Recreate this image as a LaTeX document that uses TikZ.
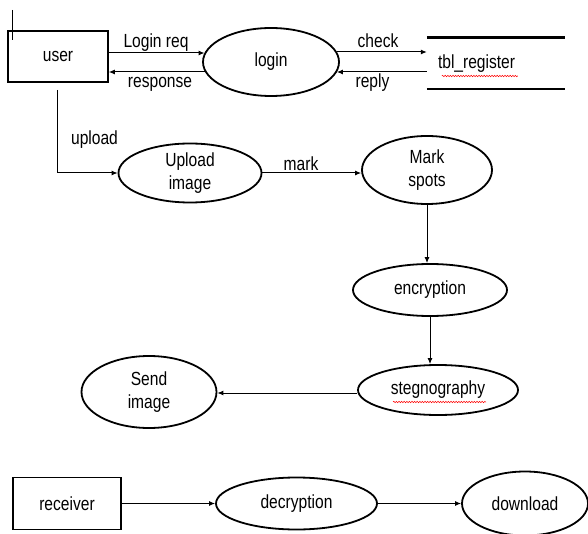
\documentclass[tikz,border=0pt]{standalone}
\usepackage{fontspec}
\setmainfont{Liberation Sans}[FakeStretch=0.82]
\usetikzlibrary{shapes.geometric,arrows.meta,calc,decorations.pathmorphing}

\begin{document}
\begin{tikzpicture}[x=1pt,y=-1pt,
  every node/.style={font=\fontsize{19}{23}\selectfont},
  proc/.style={ellipse, draw, line width=1.8pt, inner sep=-3pt, align=center},
  entity/.style={rectangle, draw, line width=1.6pt, inner sep=0pt},
  store/.style={rectangle, inner ysep=0pt, inner xsep=11pt, text width=116pt, align=left,
    minimum width=138pt, minimum height=51pt},
  storeline/.style={line width=2.6pt},
  flow/.style={line width=1pt, -{Latex[length=6pt,width=5pt]}},
  plain/.style={line width=1pt},
  lbl/.style={inner sep=0pt},
  spell/.style={red, line width=0.5pt, decorate,
    decoration={snake, amplitude=0.7pt, segment length=2.6pt}}
]
\useasboundingbox (0,0) rectangle (588,534);

% entities, processes and the data store
\node[entity, minimum width=100pt, minimum height=51pt] (user) at (58,56.5) {user};
\node[proc, minimum width=136pt, minimum height=68pt] (login) at (271,62) {login};
\node[store] (tbl) at (496,63.5) {\raisebox{-3pt}{tbl\_register}};
\draw[storeline] (tbl.north west) -- (tbl.north east);
\draw[storeline] (tbl.south west) -- (tbl.south east);
\draw[spell] ($(tbl.west)+(15,12.5)$) -- ($(tbl.west)+(91,12.5)$);

\node[proc, minimum width=143pt, minimum height=59pt] (upload) at (190,173) {Upload\\image};
\node[proc, minimum width=130pt, minimum height=68pt] (mark) at (427,170) {Mark\\spots};
\node[proc, minimum width=154pt, minimum height=52pt] (enc) at (430,290) {encryption};
\node[proc, minimum width=160pt, minimum height=50pt] (steg) at (438,390) {stegnography};
\draw[spell] ($(steg.center)+(-45,12)$) -- ($(steg.center)+(48,12)$);
\node[proc, minimum width=135pt, minimum height=72pt] (send) at (149,392) {Send\\image};

\node[entity, minimum width=108pt, minimum height=52pt] (recv) at (67,503.5) {receiver};
\node[proc, minimum width=161pt, minimum height=52pt] (dec) at (296.5,503.5) {decryption};
\node[proc, minimum width=126pt, minimum height=64pt] (down) at (525,503.5) {download};

% stray tick at the top left
\draw[plain] (12,10) -- (12,40);

% login exchange
\draw[flow] ($(user.east |- login)+(0,-9)$) -- ($(login.west)+(2.4,-9)$);
\draw[flow] ($(login.west)+(3,10)$) -- ($(user.east |- login)+(0,10)$);
\draw[flow] ($(login.east)+(-3,-10)$) -- ($(tbl.west |- login)+(0,-10)$);
\draw[flow] ($(tbl.west |- login)+(0,10)$) -- ($(login.east)+(-3,10)$);
\node[lbl] (lreq) at (156,43) {Login req};
\node[lbl] (lresp) at (160,84) {response};
\node[lbl] (lcheck) at (378,41) {check};
\node[lbl] (lreply) at (372.5,83) {reply};

% upload and processing chain
\draw[flow] ($(user.south)+(-1,7)$) |- (upload.west);
\node[lbl] (lup) at (94.5,139.5) {upload};
\draw[flow] (upload.east) -- (mark.west |- upload.east);
\node[lbl] (lmark) at (301,164) {mark};
\draw[flow] (mark.south) -- (mark.south |- enc.north);
\draw[flow] (enc.south) -- (enc.south |- steg.north);
\draw[flow] ($(steg.west)+(0,3)$) -- ($(send.east |- steg.west)+(0,3)$);

% receiving side
\draw[flow] (recv.east) -- (dec.west);
\draw[flow] (dec.east) -- (down.west);
\end{tikzpicture}
\end{document}
